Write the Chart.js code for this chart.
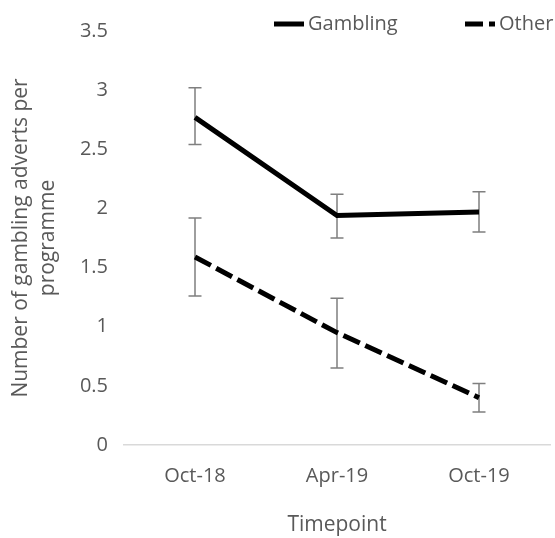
<!DOCTYPE html>
<html>
<head>
<meta charset="utf-8">
<script src="https://cdn.jsdelivr.net/npm/chart.js@4/dist/chart.umd.min.js"></script>
<style>
    html, body { margin: 0; padding: 0; background: #ffffff; }
    #chart-box { width: 555px; height: 538px; }
</style>
</head>
<body>
<div id="chart-box"><canvas id="adverts-chart"></canvas></div>
<script>
// Datos
const timepoints = ['Oct-18', 'Apr-19', 'Oct-19'];
const gamblingMeans = [2.77, 1.94, 1.97];
const gamblingLow = [2.54, 1.75, 1.80];
const gamblingHigh = [3.02, 2.12, 2.14];
const otherMeans = [1.59, 0.95, 0.40];
const otherLow = [1.26, 0.65, 0.28];
const otherHigh = [1.92, 1.24, 0.52];
const yTicks = [0, 0.5, 1, 1.5, 2, 2.5, 3, 3.5];

const textColor = '#595959';
const fontFamily = '"Open Sans", "DejaVu Sans", sans-serif';

// Barras de error: dibujadas con las escalas del gráfico
const errorBars = {
    id: 'errorBars',
    beforeDatasetsDraw(chart) {
        const ctx = chart.ctx;
        const x = chart.scales.x;
        const y = chart.scales.y;
        const ranges = [[gamblingLow, gamblingHigh], [otherLow, otherHigh]];
        ctx.save();
        ctx.strokeStyle = '#7f7f7f';
        ctx.lineWidth = 1.5;
        ranges.forEach(function (range) {
            timepoints.forEach(function (t, i) {
                const px = x.getPixelForValue(i);
                const top = y.getPixelForValue(range[1][i]);
                const bottom = y.getPixelForValue(range[0][i]);
                ctx.beginPath();
                ctx.moveTo(px, top);
                ctx.lineTo(px, bottom);
                ctx.moveTo(px - 6.5, top);
                ctx.lineTo(px + 6.5, top);
                ctx.moveTo(px - 6.5, bottom);
                ctx.lineTo(px + 6.5, bottom);
                ctx.stroke();
            });
        });
        ctx.restore();
    }
};

// Leyenda arriba a la derecha
const topLegend = {
    id: 'topLegend',
    afterDraw(chart) {
        const ctx = chart.ctx;
        const starts = [274, 465];
        ctx.save();
        ctx.font = '20px ' + fontFamily;
        ctx.textBaseline = 'middle';
        chart.data.datasets.forEach(function (ds, i) {
            ctx.strokeStyle = ds.borderColor;
            ctx.lineWidth = ds.borderWidth;
            ctx.setLineDash(ds.borderDash || []);
            ctx.beginPath();
            ctx.moveTo(starts[i], 24);
            ctx.lineTo(starts[i] + 30, 24);
            ctx.stroke();
            ctx.setLineDash([]);
            ctx.fillStyle = textColor;
            ctx.fillText(ds.label, starts[i] + 34, 24);
        });
        ctx.restore();
    }
};

let ctx = document.getElementById('adverts-chart').getContext('2d');
let chart = new Chart(ctx, {
    type: 'line',
    data: {
        labels: timepoints,
        datasets: [{
            label: 'Gambling',
            data: gamblingMeans,
            borderColor: '#000000',
            borderWidth: 5,
            pointRadius: 0,
            tension: 0
        }, {
            label: 'Other',
            data: otherMeans,
            borderColor: '#000000',
            borderWidth: 5,
            borderDash: [18, 6],
            pointRadius: 0,
            tension: 0
        }]
    },
    options: {
        responsive: true,
        maintainAspectRatio: false,
        animation: false,
        layout: { padding: { top: 31, right: 5, bottom: 0, left: 0 } },
        plugins: {
            legend: { display: false },
            tooltip: { enabled: false }
        },
        scales: {
            x: {
                offset: true,
                grid: { display: false, drawTicks: false },
                border: { display: true, color: '#d9d9d9', width: 1.5 },
                ticks: { color: textColor, padding: 19, font: { family: fontFamily, size: 20 } },
                title: {
                    display: true,
                    text: 'Timepoint',
                    color: textColor,
                    padding: { top: 0, bottom: 0 },
                    font: { family: fontFamily, size: 21, lineHeight: 1.25 }
                },
                afterFit(scale) {
                    scale.height = 93;
                    scale.paddingLeft = 0;
                    scale.paddingRight = 0;
                }
            },
            y: {
                min: 0,
                max: 3.5,
                afterBuildTicks(scale) {
                    scale.ticks = yTicks.map(v => ({ value: v }));
                },
                grid: { display: false, drawTicks: false },
                border: { display: false },
                ticks: {
                    color: textColor,
                    padding: 16,
                    font: { family: fontFamily, size: 20 },
                    callback: value => String(value)
                },
                title: {
                    display: true,
                    text: ['Number of gambling adverts per', 'programme'],
                    color: textColor,
                    padding: { top: 7, bottom: 0 },
                    font: { family: fontFamily, size: 21, lineHeight: 1.3 }
                },
                afterFit(scale) {
                    scale.width = 124;
                    scale.paddingTop = 0;
                    scale.paddingBottom = 0;
                }
            }
        }
    },
    plugins: [errorBars, topLegend]
});
</script>
</body>
</html>
